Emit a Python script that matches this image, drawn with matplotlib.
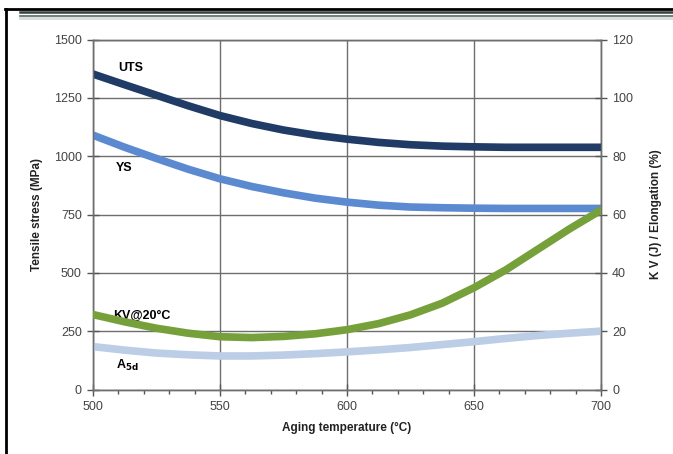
import numpy as np
import matplotlib.pyplot as plt
from matplotlib.lines import Line2D
from matplotlib.ticker import MultipleLocator

plt.rcParams['font.family'] = ['Liberation Sans', 'DejaVu Sans']

# values (every 12.5 degC)
temperature = [500, 512.5, 525, 537.5, 550, 562.5, 575, 587.5, 600,
               612.5, 625, 637.5, 650, 662.5, 675, 687.5, 700]
uts = [1352, 1306, 1261, 1216, 1174, 1140, 1112, 1090, 1073,
       1059, 1049, 1043, 1040, 1038, 1038, 1038, 1038]
ys = [1090, 1038, 990, 944, 903, 870, 843, 820, 803,
      790, 782, 779, 777, 776, 776, 776, 776]
kv = [25.7, 23.2, 21.0, 19.3, 18.1, 17.8, 18.2, 19.1, 20.5,
      22.6, 25.6, 29.6, 34.9, 41.0, 48.0, 55.0, 61.5]
elong = [14.7, 13.5, 12.5, 11.9, 11.5, 11.5, 11.8, 12.3, 12.9,
         13.6, 14.4, 15.4, 16.4, 17.5, 18.5, 19.3, 20.0]


def main():
    fig = plt.figure(figsize=(6.73, 4.54), dpi=100)
    ax1 = fig.add_axes([93 / 673, 64.5 / 454, 508 / 673, 350 / 454])
    ax2 = ax1.twinx()

    lw = 5.5
    style = dict(lw=lw, solid_capstyle='round', solid_joinstyle='round')
    ax1.plot(temperature, uts, color='#1f3b66', zorder=3, **style)
    ax1.plot(temperature, ys, color='#5b8ad0', zorder=3, **style)
    ax2.plot(temperature, elong, color='#bccde6', zorder=2, **style)
    ax2.plot(temperature, kv, color='#76a03a', zorder=3, **style)

    ax1.set_xlim(500, 700)
    ax1.set_ylim(0, 1500)
    ax2.set_ylim(0, 120)
    ax1.set_xticks([500, 550, 600, 650, 700])
    ax1.xaxis.set_minor_locator(MultipleLocator(10))
    ax1.set_yticks(np.arange(0, 1501, 250))
    ax2.set_yticks(np.arange(0, 121, 20))

    grid_c = '#6e6e6e'
    ax1.grid(True, which='major', color=grid_c, lw=1.0)
    ax1.set_axisbelow(True)
    for ax in (ax1, ax2):
        for s in ax.spines.values():
            s.set_color(grid_c)
            s.set_linewidth(1.0)
        ax.tick_params(colors='#555555', labelcolor='#444444', labelsize=9, length=5, width=1.0)
    ax1.tick_params(axis='x', which='minor', length=3, width=1.0, colors='#555555')
    ax1.tick_params(axis='x', which='major', direction='inout', length=8, pad=4)
    ax1.tick_params(axis='y', direction='inout', length=9)
    ax2.tick_params(axis='y', direction='inout', length=9)

    ax1.set_xlabel('Aging temperature (\u00b0C)', fontsize=8.5, fontweight='bold', color='#222222', labelpad=7)
    ax1.set_ylabel('Tensile stress (MPa)', fontsize=8.5, fontweight='bold', color='#222222', labelpad=8)
    ax2.set_ylabel('K V (J) / Elongation (%)', fontsize=8.5, fontweight='bold', color='#222222', labelpad=12)

    ax1.text(510, 1378, 'UTS', fontsize=9, fontweight='bold', va='center')
    ax1.text(509, 948, 'YS', fontsize=9, fontweight='bold', va='center')
    ax1.text(508, 318, 'KV@20\u00b0C', fontsize=9, fontweight='bold', va='center')
    ax1.text(509, 105, r'A$_{\mathbf{5d}}$', fontsize=9, fontweight='bold', va='center')

    # page frame around the chart
    fig.add_artist(Line2D([6 / 673, 6 / 673], [0, 1 - 9 / 454], color='black', lw=2, transform=fig.transFigure))
    fig.add_artist(Line2D([5 / 673, 1], [1 - 9 / 454, 1 - 9 / 454], color='black', lw=2, transform=fig.transFigure))
    fig.add_artist(Line2D([20 / 673, 1], [1 - 12 / 454, 1 - 12 / 454], color='#33413f', lw=1.8, transform=fig.transFigure))
    fig.add_artist(Line2D([20 / 673, 1], [1 - 15.5 / 454, 1 - 15.5 / 454], color='#5a6866', lw=1.2, transform=fig.transFigure))
    fig.add_artist(Line2D([20 / 673, 1], [1 - 18 / 454, 1 - 18 / 454], color='#d6dcdc', lw=2, transform=fig.transFigure))

    fig.savefig('out.png', dpi=100)


if __name__ == '__main__':
    main()
